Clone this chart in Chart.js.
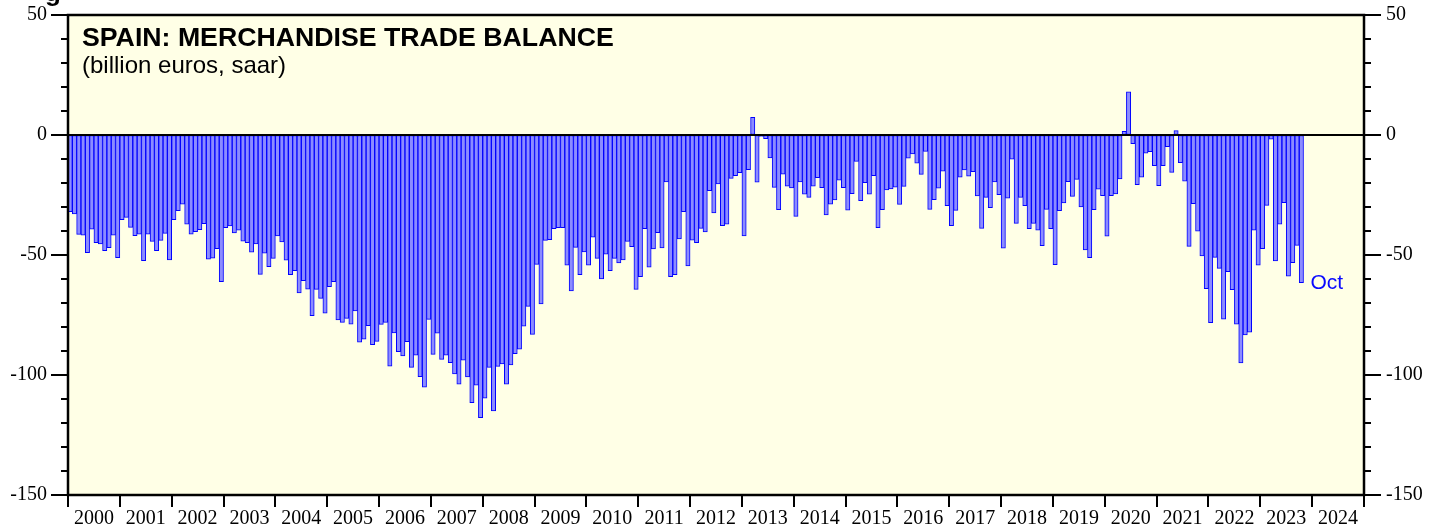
<!DOCTYPE html>
<html>
<head>
<meta charset="utf-8">
<script src="https://cdn.jsdelivr.net/npm/chart.js@4.4.0/dist/chart.umd.min.js"></script>
<style>
  html, body { margin: 0; padding: 0; background: #fff; }
  #wrap { position: relative; width: 1442px; height: 529px; }
</style>
</head>
<body>
<div id="wrap"><canvas id="chart" width="1442" height="529"></canvas></div>
<script>
// categories
const years = [2000, 2001, 2002, 2003, 2004, 2005, 2006, 2007, 2008, 2009, 2010, 2011, 2012,
               2013, 2014, 2015, 2016, 2017, 2018, 2019, 2020, 2021, 2022, 2023, 2024];
const monthNames = ['Jan', 'Feb', 'Mar', 'Apr', 'May', 'Jun', 'Jul', 'Aug', 'Sep', 'Oct', 'Nov', 'Dec'];

// merchandise trade balance, billion euros saar, Jan 2000 - Oct 2023
const tradeBalance = [
  -31.9, -32.9, -41.4, -41.7, -49.0, -39.2, -44.9, -45.4, -48.2, -46.9, -41.7, -51.1,   // 2000
  -35.3, -34.3, -38.5, -41.9, -41.3, -52.4, -41.3, -44.3, -48.2, -43.9, -41.0, -52.1,   // 2001
  -35.3, -31.5, -28.8, -37.2, -41.3, -40.3, -39.4, -36.9, -51.7, -51.3, -47.4, -61.1,   // 2002
  -38.6, -37.9, -40.8, -39.7, -44.2, -44.9, -48.8, -45.4, -58.1, -49.2, -54.9, -51.4,   // 2003
  -42.1, -44.6, -52.2, -58.2, -56.5, -65.8, -60.7, -64.2, -75.3, -64.3, -68.1, -74.2,   // 2004
  -63.2, -61.1, -77.1, -78.1, -76.4, -78.8, -73.3, -86.3, -85.1, -79.4, -87.4, -86.0,   // 2005
  -78.9, -78.1, -96.3, -82.5, -90.3, -92.1, -86.1, -96.8, -91.7, -100.7, -105.1, -76.8, // 2006
  -91.4, -82.6, -93.5, -91.7, -94.9, -99.6, -103.8, -93.8, -100.8, -111.5, -104.2, -117.8, // 2007
  -109.7, -96.8, -115.0, -96.4, -95.4, -103.8, -95.8, -91.1, -89.2, -79.7, -71.4, -83.1, // 2008
  -53.9, -70.4, -43.9, -43.6, -39.0, -38.6, -38.6, -54.2, -65.0, -46.8, -58.2, -48.7,   // 2009
  -54.2, -42.6, -51.4, -60.0, -49.7, -56.5, -51.4, -53.3, -52.1, -44.3, -46.5, -64.3,   // 2010
  -59.0, -39.0, -55.1, -47.5, -40.7, -47.1, -19.6, -59.0, -58.2, -43.3, -31.9, -54.6,   // 2011
  -43.8, -44.9, -38.9, -40.4, -23.2, -32.5, -20.4, -37.8, -37.2, -18.1, -16.9, -15.7,   // 2012
  -42.1, -14.4, 7.4, -19.7, -0.6, -1.5, -9.6, -21.8, -31.1, -16.3, -21.3, -22.1,        // 2013
  -33.9, -19.6, -24.7, -26.0, -21.3, -17.8, -21.9, -33.3, -28.8, -27.1, -18.8, -21.9,   // 2014
  -31.3, -24.4, -11.0, -27.4, -19.9, -24.7, -16.9, -38.6, -31.1, -22.9, -22.5, -21.7,   // 2015
  -28.9, -21.4, -9.7, -7.9, -11.7, -16.4, -6.8, -31.0, -26.9, -22.2, -15.1, -29.4,      // 2016
  -37.8, -31.4, -17.6, -14.6, -17.2, -15.3, -25.4, -38.9, -26.0, -30.3, -19.6, -24.9,   // 2017
  -47.2, -26.3, -10.1, -36.8, -26.0, -29.4, -39.0, -36.8, -39.7, -46.1, -31.0, -39.0,   // 2018
  -54.0, -31.5, -28.3, -19.4, -25.6, -18.5, -30.0, -47.9, -51.1, -31.1, -22.6, -25.3,   // 2019
  -42.2, -25.3, -24.5, -18.3, 1.5, 18.0, -3.6, -20.7, -17.6, -7.6, -6.9, -12.8,         // 2020
  -21.1, -12.8, -4.9, -15.6, 1.8, -11.5, -19.2, -46.4, -28.6, -40.1, -50.4, -64.0,      // 2021
  -78.2, -51.0, -55.6, -76.7, -56.9, -64.4, -78.8, -95.0, -83.3, -82.2, -39.7, -54.2,   // 2022
  -47.4, -29.3, -1.7, -52.5, -37.2, -28.2, -58.8, -53.2, -46.0, -61.5                   // 2023
];

// axis
const yMin = -150;
const yMax = 50;
const yLabelEvery = 50;
const yTickStep = 10;
const lastMonthLabel = 'Oct';

const titleText = 'SPAIN: MERCHANDISE TRADE BALANCE';
const subtitleText = '(billion euros, saar)';

// one category per month over the whole axis, empty after the last reading
const monthLabels = [];
years.forEach(y => monthNames.forEach(m => monthLabels.push(m + ' ' + y)));
const barValues = monthLabels.map((_, i) => i < tradeBalance.length ? tradeBalance[i] : null);

const serif = '"Liberation Serif", "DejaVu Serif", serif';
const sans = '"Liberation Sans", Arial, sans-serif';

// background, frame, tick marks and the texts inside the plot
const framePlugin = {
    id: 'framePlugin',
    beforeDraw(chart) {
        const { ctx, chartArea: a } = chart;
        ctx.save();
        ctx.fillStyle = '#ffffff';
        ctx.fillRect(0, 0, chart.width, chart.height);
        ctx.fillStyle = '#ffffe6';
        ctx.fillRect(a.left, a.top, a.right - a.left, a.bottom - a.top);
        ctx.restore();
    },
    afterDatasetsDraw(chart) {
        const { ctx, chartArea: a } = chart;
        const y0 = chart.scales.y.getPixelForValue(0);
        ctx.save();
        ctx.strokeStyle = '#000';
        ctx.lineWidth = 2;
        ctx.beginPath();
        ctx.moveTo(a.left, y0);
        ctx.lineTo(a.right, y0);
        ctx.stroke();
        ctx.restore();
    },
    afterDraw(chart) {
        const { ctx, chartArea: a } = chart;
        const yScale = chart.scales.y;
        ctx.save();

        // plot frame
        ctx.strokeStyle = '#000';
        ctx.lineWidth = 2.5;
        ctx.strokeRect(a.left, a.top, a.right - a.left, a.bottom - a.top);

        // tick marks on both sides, long ones at the labelled values
        ctx.lineWidth = 2;
        for (let v = yMin; v <= yMax; v += yTickStep) {
            const y = Math.round(yScale.getPixelForValue(v));
            const len = v % yLabelEvery === 0 ? 17 : 7;
            ctx.beginPath();
            ctx.moveTo(a.left, y);
            ctx.lineTo(a.left - len, y);
            ctx.moveTo(a.right, y);
            ctx.lineTo(a.right + len, y);
            ctx.stroke();
        }

        // title block
        ctx.fillStyle = '#000';
        ctx.textBaseline = 'alphabetic';
        ctx.textAlign = 'left';
        ctx.font = 'bold 26.7px ' + sans;
        ctx.fillText(titleText, a.left + 14, 46);
        ctx.font = '24px ' + sans;
        ctx.fillText(subtitleText, a.left + 14, 73);

        // cut-off heading above the chart
        ctx.font = 'bold 26px ' + sans;
        ctx.fillText('g', 45, 1);

        // last month label next to the last bar
        const last = tradeBalance.length - 1;
        const bar = chart.getDatasetMeta(0).data[last];
        ctx.fillStyle = '#0a0aff';
        ctx.font = '21px ' + sans;
        ctx.textBaseline = 'middle';
        ctx.fillText(lastMonthLabel, bar.x + bar.width / 2 + 7, yScale.getPixelForValue(tradeBalance[last]) + 1);

        ctx.restore();
    }
};

// labels pushed off the frame by an invisible tick, so no extra vertical padding is added
const yTickOptions = {
    stepSize: yTickStep,
    autoSkip: false,
    padding: 0,
    color: '#000',
    font: { family: serif, size: 20 },
    callback: v => (v % yLabelEvery === 0 ? v : '')
};
const yGridOptions = {
    display: true,
    drawOnChartArea: false,
    drawTicks: true,
    tickLength: 21,
    color: 'rgba(0,0,0,0)'
};

new Chart(document.getElementById('chart'), {
    type: 'bar',
    data: {
        labels: monthLabels,
        datasets: [{
            data: barValues,
            backgroundColor: '#8c8cff',
            borderColor: '#0000ff',
            borderWidth: 1,
            borderSkipped: false,
            barPercentage: 1,
            categoryPercentage: 1,
            xAxisID: 'x',
            yAxisID: 'y'
        }]
    },
    options: {
        responsive: false,
        animation: false,
        events: [],
        layout: { padding: { top: 15, left: 0, right: 0, bottom: 0 } },
        plugins: {
            legend: { display: false },
            tooltip: { enabled: false },
            title: { display: false }
        },
        scales: {
            x: {
                type: 'category',
                display: false,
                offset: true
            },
            xYear: {
                type: 'category',
                position: 'bottom',
                labels: years.map(String),
                offset: true,
                grid: {
                    offset: true,
                    drawOnChartArea: false,
                    tickLength: 12,
                    color: '#000',
                    lineWidth: 2
                },
                border: { display: false },
                ticks: {
                    autoSkip: false,
                    maxRotation: 0,
                    padding: 0,
                    color: '#000',
                    font: { family: serif, size: 20 }
                },
                afterFit: s => { s.height = 34; }
            },
            y: {
                position: 'left',
                min: yMin,
                max: yMax,
                grid: yGridOptions,
                border: { display: false },
                ticks: yTickOptions,
                afterFit: s => { s.width = 68; }
            },
            y2: {
                position: 'right',
                min: yMin,
                max: yMax,
                grid: Object.assign({}, yGridOptions, { tickLength: 22 }),
                border: { display: false },
                ticks: yTickOptions,
                afterFit: s => { s.width = 78; }
            }
        }
    },
    plugins: [framePlugin]
});
</script>
</body>
</html>
